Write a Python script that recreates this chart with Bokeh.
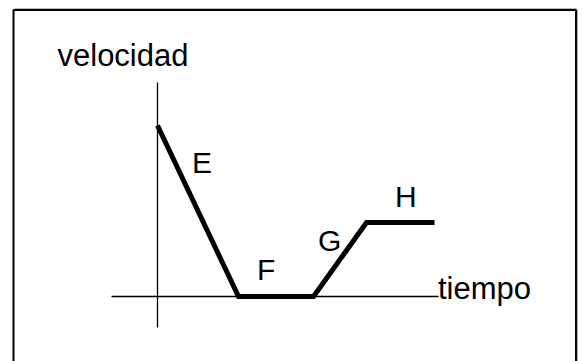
from bokeh.plotting import figure
from bokeh.models import Range1d
from bokeh.core.properties import value
from bokeh.embed import file_html
from bokeh.resources import INLINE

# ---- data (velocity-time profile, arbitrary units) ----
tiempo = [0, 81, 156, 209, 277]
velocidad = [171, 0, 0, 74, 74]
segment_labels = ["E", "F", "G", "H"]
axis_labels = ["velocidad", "tiempo"]

# ---- layout (placement only) ----
seg_label_x = [34.5, 99.5, 160.5, 237.5]
seg_label_y = [134, 27, 56.5, 100]

p = figure(width=583, height=361, output_backend="svg", toolbar_location=None,
           x_range=Range1d(-157, 426), y_range=Range1d(-65, 296),
           min_border=0, min_border_left=0, min_border_right=0,
           min_border_top=0, min_border_bottom=0)
p.axis.visible = False
p.grid.visible = False
p.outline_line_color = None
p.background_fill_color = "white"
p.border_fill_color = "white"

FONT = value("Liberation Sans")

# frame border (extends below canvas)
p.line([-144, -144, 418.5, 418.5], [-80, 286.5, 286.5, -80],
       line_color="black", line_width=2)
p.line([-143, 419], [288, 288], line_color="#b8b8b8", line_width=1)
p.line([420, 420], [-80, 287], line_color="#b8b8b8", line_width=1)

# axes
p.line([0, 0], [-31, 214], line_color="black", line_width=1.3)
p.line([-46, 281], [0, 0], line_color="black", line_width=1.3)

# profile
p.line(tiempo, velocidad, line_color="black", line_width=5, line_join="miter")

# labels
p.text(x=[-100], y=[241.5], text=[axis_labels[0]], text_font=FONT,
       text_font_size="31px", text_color="black", text_baseline="alphabetic")
p.text(x=[280.5], y=[8], text=[axis_labels[1]], text_font=FONT,
       text_font_size="31px", text_color="black", text_baseline="alphabetic")
p.text(x=seg_label_x, y=seg_label_y, text=segment_labels, text_font=FONT,
       text_font_size="30px", text_color="black", text_baseline="alphabetic")

open("out.html", "w").write(file_html(p, INLINE))
